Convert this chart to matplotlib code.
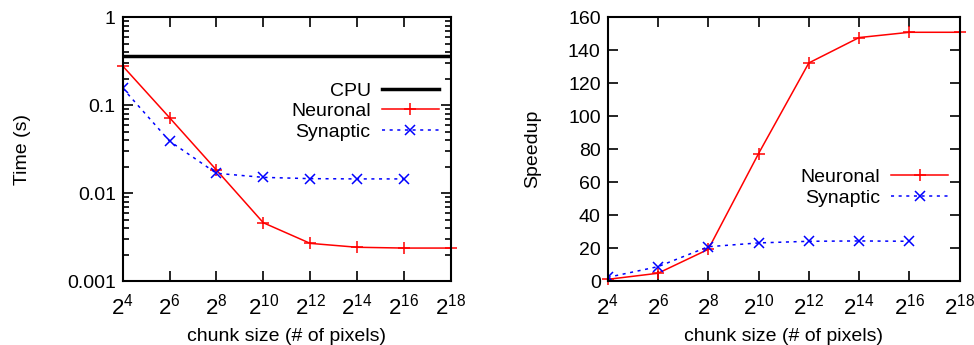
import numpy as np
import matplotlib
matplotlib.use("Agg")
import matplotlib.pyplot as plt
from matplotlib.ticker import FixedLocator, LogLocator, NullFormatter, FuncFormatter

plt.rcParams["font.family"] = ["Liberation Sans", "DejaVu Sans"]
plt.rcParams["font.size"] = 14
plt.rcParams["mathtext.fontset"] = "custom"
plt.rcParams["mathtext.rm"] = "Liberation Sans"
plt.rcParams["mathtext.it"] = "Liberation Sans"

# chunk sizes (powers of two)
chunk_exp = [4, 6, 8, 10, 12, 14, 16, 18]
synaptic_exp = [4, 6, 8, 10, 12, 14, 16]

cpu_time = 0.365
neuronal_time = [0.279, 0.072, 0.0183, 0.0046, 0.00268, 0.00242, 0.00237, 0.00237]
synaptic_time = [0.156, 0.039, 0.0168, 0.0151, 0.0146, 0.0145, 0.0145]

neuronal_speedup = [1.0, 4.7, 19.2, 77.3, 132.3, 147.7, 150.9, 150.9]
synaptic_speedup = [2.2, 8.7, 20.8, 23.1, 24.1, 24.3, 24.1]

chunks = [2.0 ** e for e in chunk_exp]
syn_chunks = [2.0 ** e for e in synaptic_exp]


def pow2_label(v, pos):
    return r"$2^{%d}$" % int(round(np.log2(v)))


def style_axes(ax):
    ax.set_xscale("log", base=2)
    ax.set_xlim(2 ** 4, 2 ** 18)
    ax.xaxis.set_major_locator(FixedLocator(chunks))
    ax.xaxis.set_minor_locator(FixedLocator([]))
    ax.xaxis.set_major_formatter(FuncFormatter(pow2_label))
    ax.tick_params(which="both", direction="in", top=True, right=True, width=1.2)
    ax.tick_params(which="major", length=7)
    ax.tick_params(which="minor", length=4)
    ax.tick_params(axis="x", labelsize=16, pad=9)
    ax.tick_params(axis="y", labelsize=14, pad=5)
    for s in ax.spines.values():
        s.set_linewidth(1.5)
    ax.set_xlabel("chunk size (# of pixels)", fontsize=14, labelpad=6)


fig = plt.figure(figsize=(9.74, 3.45), dpi=100)
ax1 = fig.add_axes([0.126, 0.1855, 0.3368, 0.7644])
ax2 = fig.add_axes([0.6239, 0.1855, 0.3614, 0.7644])

leg_kw = dict(frameon=False, markerfirst=False, handlelength=2.9, handletextpad=0.6,
              labelspacing=0.15, fontsize=14, borderaxespad=0, borderpad=0)

# left: time
ax1.axhline(cpu_time, color="black", lw=2.5, label="CPU")
ax1.plot(chunks, neuronal_time, color="red", lw=1.1, marker="+", ms=8, mew=1.1,
         label="Neuronal", clip_on=False)
ax1.plot(syn_chunks, synaptic_time, color="blue", lw=1.1, ls=(0, (2, 3)), marker="x",
         ms=7, mew=1.1, label="Synaptic")
style_axes(ax1)
ax1.set_yscale("log")
ax1.set_ylim(0.001, 1)
ax1.yaxis.set_major_locator(FixedLocator([0.001, 0.01, 0.1, 1]))
ax1.yaxis.set_major_formatter(FuncFormatter(lambda v, p: "%g" % v))
ax1.yaxis.set_minor_locator(LogLocator(base=10, subs=np.arange(2, 10)))
ax1.yaxis.set_minor_formatter(NullFormatter())
ax1.set_ylabel("Time (s)", fontsize=14, labelpad=26)
ax1.legend(loc="upper right", bbox_to_anchor=(0.963, 0.755), **leg_kw)

# right: speedup
ax2.plot(chunks, neuronal_speedup, color="red", lw=1.1, marker="+", ms=8, mew=1.1,
         label="Neuronal", clip_on=False)
ax2.plot(syn_chunks, synaptic_speedup, color="blue", lw=1.1, ls=(0, (2, 3)), marker="x",
         ms=7, mew=1.1, label="Synaptic")
style_axes(ax2)
ax2.set_ylim(0, 160)
ax2.set_yticks(np.arange(0, 161, 20))
ax2.set_ylabel("Speedup", fontsize=14, labelpad=19)
ax2.legend(loc="upper right", bbox_to_anchor=(0.966, 0.427), **leg_kw)

fig.savefig("out.png", dpi=100)
